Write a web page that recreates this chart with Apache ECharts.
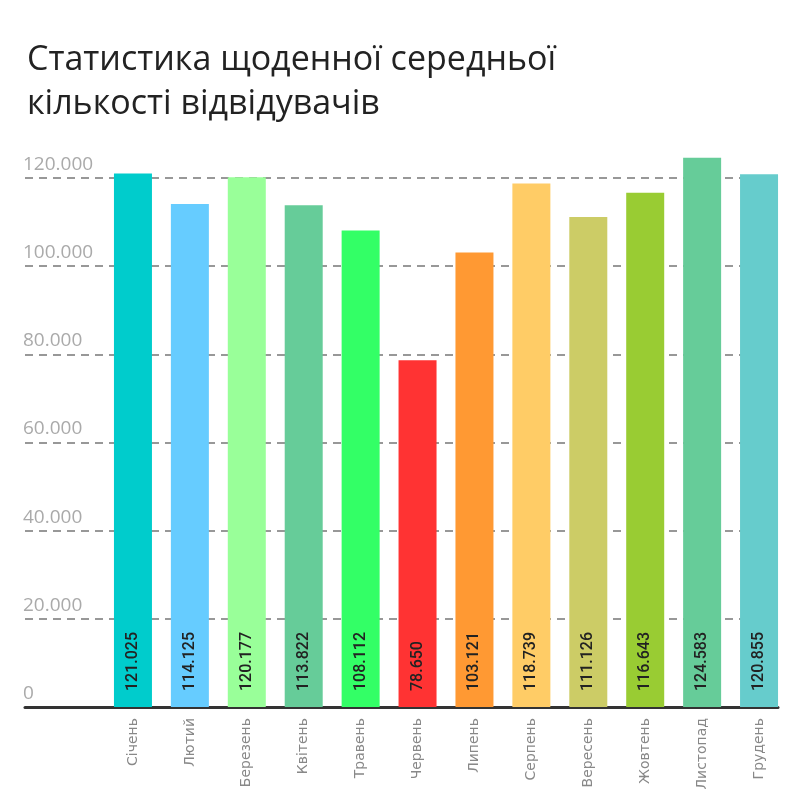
<!DOCTYPE html>
<html>
<head>
<meta charset="utf-8">
<title>Статистика відвідувачів</title>
<script src="https://cdn.jsdelivr.net/npm/echarts@6/dist/echarts.min.js"></script>
<style>
  html, body { margin: 0; padding: 0; background: #fff; }
  #chart { width: 800px; height: 800px; }
</style>
</head>
<body>
<div id="chart"></div>
<script>
var months = ['Січень', 'Лютий', 'Березень', 'Квітень', 'Травень', 'Червень',
    'Липень', 'Серпень', 'Вересень', 'Жовтень', 'Листопад', 'Грудень'];
var visitors = [121025, 114125, 120177, 113822, 108112, 78650,
    103121, 118739, 111126, 116643, 124583, 120855];
var barColors = ['#00cccc', '#66ccff', '#99ff99', '#66cc99', '#33ff66', '#ff3333',
    '#ff9933', '#ffcc66', '#cccc66', '#99cc33', '#66cc99', '#66cccc'];

// 121025 -> "121.025"
function dots(v) {
    return String(Math.round(v)).replace(/\B(?=(\d{3})+(?!\d))/g, '.');
}

var chart = echarts.init(document.getElementById('chart'), null, { renderer: 'canvas' });

chart.setOption({
    animation: false,
    backgroundColor: '#fff',
    title: {
        text: 'Статистика щоденної середньої\nкількості відвідувачів',
        left: 22,
        top: 33,
        textStyle: {
            fontFamily: 'Open Sans',
            fontSize: 34,
            fontWeight: 'normal',
            color: '#222',
            lineHeight: 44
        }
    },
    grid: [
        // background grid: value labels, dashed lines, base line
        { left: 25, right: 22, top: 178, bottom: 93 },
        // bars
        { left: 104.5, right: 12.5, top: 178, bottom: 93 }
    ],
    xAxis: [
        {
            gridIndex: 0,
            type: 'value',
            min: 0,
            max: 1,
            axisLine: { show: true, lineStyle: { color: '#333', width: 3 } },
            axisTick: { show: false },
            axisLabel: { show: false },
            splitLine: { show: false }
        },
        {
            gridIndex: 1,
            type: 'category',
            data: months,
            axisLine: { show: false },
            axisTick: { show: false },
            axisLabel: {
                rotate: 90,
                margin: 11,
                color: '#888',
                fontFamily: 'DejaVu Sans',
                fontSize: 14
            }
        }
    ],
    yAxis: [
        {
            gridIndex: 0,
            type: 'value',
            min: 0,
            max: 120000,
            interval: 20000,
            axisLine: { show: false },
            axisTick: { show: false },
            axisLabel: {
                inside: true,
                margin: -2,
                align: 'left',
                verticalAlign: 'bottom',
                padding: [0, 0, 4, 0],
                color: '#aaa',
                fontFamily: 'Open Sans',
                fontSize: 19,
                formatter: dots
            },
            splitLine: {
                show: true,
                lineStyle: { color: '#777', width: 1.5, type: [8, 6] }
            }
        },
        {
            gridIndex: 1,
            type: 'value',
            min: 0,
            max: 120000,
            show: false
        }
    ],
    series: [{
        type: 'bar',
        xAxisIndex: 1,
        yAxisIndex: 1,
        data: visitors,
        barWidth: 38,
        clip: false,
        itemStyle: {
            color: function (p) { return barColors[p.dataIndex]; }
        },
        label: {
            show: true,
            rotate: 90,
            position: 'insideBottom',
            align: 'left',
            verticalAlign: 'middle',
            distance: 16,
            color: '#222',
            fontFamily: 'Roboto',
            fontWeight: 500,
            fontSize: 16,
            formatter: function (p) { return dots(p.value); }
        }
    }]
});
</script>
</body>
</html>
